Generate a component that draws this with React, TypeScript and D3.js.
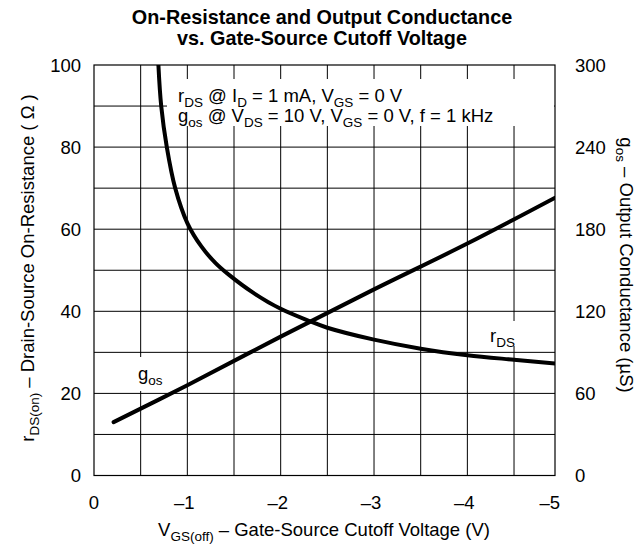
import React from "react";
import * as d3 from "d3";

// ---- data ----
const rdsV = [-0.69, -0.72, -0.78, -0.87, -1.0, -1.15, -1.3, -1.45, -1.7, -2.0, -2.3, -2.5, -3.0, -3.5, -4.0, -4.5, -4.94];
const rdsOhm = [100, 90, 80, 70, 61.5, 55.8, 51.8, 48.8, 44.6, 40.6, 37.7, 36.0, 33.1, 30.9, 29.3, 28.2, 27.3];
const gosV = [-0.21, -1.0, -2.0, -3.0, -4.0, -4.94];
const gosUS = [39, 66, 101.5, 136, 169.5, 203];
const xTicks = [0, -1, -2, -3, -4, -5];
const xTickLabels = ["0", "\u20131", "\u20132", "\u20133", "\u20134", "\u20135"];
const leftTicks = [0, 20, 40, 60, 80, 100];
const rightTicks = [0, 60, 120, 180, 240, 300];
const xGrid = [-0.5, -1, -1.5, -2, -2.5, -3, -3.5, -4, -4.5];
const yGrid = [10, 20, 30, 40, 50, 60, 70, 80, 90];

const W = 636;
const H = 544;
const L = 94, R = 555, T = 65, B = 475.5;
const FONT = "'Liberation Sans', Arial, Helvetica, sans-serif";
const FS = 18.5;
const SUB = 13.5;
const SH = 4.5;

type Part = [string, boolean];

function rich(parts: Part[]) {
  let prevSub = false;
  return parts.map(([s, isSub], i) => {
    let dy = 0;
    if (isSub && !prevSub) dy = SH;
    if (!isSub && prevSub) dy = -SH;
    prevSub = isSub;
    return (
      <tspan key={i} dy={dy} fontSize={isSub ? SUB : FS}>
        {s}
      </tspan>
    );
  });
}

export default function App() {
  const x = d3.scaleLinear().domain([0, -5]).range([L, 560.7]);
  const y = d3.scaleLinear().domain([0, 100]).range([B, T]);
  const y2 = d3.scaleLinear().domain([0, 300]).range([B, T]);

  const rdsPts: [number, number][] = rdsV.map((v, i) => [x(v), y(rdsOhm[i])]);
  const gosPts: [number, number][] = gosV.map((v, i) => [x(v), y2(gosUS[i])]);
  const line = d3.line().curve(d3.curveCatmullRom.alpha(0.5));

  return (
    <svg width={W} height={H} style={{ position: "absolute", left: 0, top: 0 }} fontFamily={FONT}>
      <rect x={0} y={0} width={W} height={H} fill="#fff" />
      <defs>
        <clipPath id="plot">
          <rect x={L} y={T} width={R - L} height={B - T} />
        </clipPath>
      </defs>

      {/* Title */}
      <text x={322} y={24} textAnchor="middle" fontWeight="bold" fontSize={19.8} fill="#000">
        On-Resistance and Output Conductance
      </text>
      <text x={322} y={45} textAnchor="middle" fontWeight="bold" fontSize={19.8} fill="#000">
        vs. Gate-Source Cutoff Voltage
      </text>

      {/* grid */}
      {xGrid.map((v) => (
        <line key={"xg" + v} x1={x(v)} x2={x(v)} y1={T} y2={B} stroke="#000" strokeWidth={1} />
      ))}
      {yGrid.map((v) => (
        <line key={"yg" + v} x1={L} x2={R} y1={y(v)} y2={y(v)} stroke="#000" strokeWidth={1} />
      ))}

      {/* label backgrounds */}
      <rect x={167} y={79} width={R - 167 - 1} height={47} fill="#fff" />
      <rect x={487} y={321} width={34} height={25} fill="#fff" />
      <rect x={134} y={357} width={34} height={34} fill="#fff" />

      <rect x={L} y={T} width={R - L} height={B - T} fill="none" stroke="#000" strokeWidth={1.2} />

      {/* curves */}
      <g clipPath="url(#plot)">
        <path d={line(rdsPts) || ""} fill="none" stroke="#000" strokeWidth={4} />
        <path d={line(gosPts) || ""} fill="none" stroke="#000" strokeWidth={4} strokeLinecap="round" />
      </g>

      {/* legend text */}
      <text x={178} y={102} fontSize={FS} fill="#000">
        {rich([["r", false], ["DS", true], [" @ I", false], ["D", true], [" = 1 mA, V", false], ["GS", true], [" = 0 V", false]])}
      </text>
      <text x={178} y={122} fontSize={FS} fill="#000">
        {rich([["g", false], ["os", true], [" @ V", false], ["DS", true], [" = 10 V, V", false], ["GS", true], [" = 0 V, f = 1 kHz", false]])}
      </text>

      {/* curve labels */}
      <text x={490} y={342} fontSize={FS} fill="#000">
        {rich([["r", false], ["DS", true]])}
      </text>
      <text x={138} y={380} fontSize={FS} fill="#000">
        {rich([["g", false], ["os", true]])}
      </text>

      {/* left ticks */}
      {leftTicks.map((v) => (
        <text key={"lt" + v} x={81} y={y(v) + 6.5} textAnchor="end" fontSize={FS} fill="#000">
          {v}
        </text>
      ))}
      {/* right ticks */}
      {rightTicks.map((v) => (
        <text key={"rt" + v} x={575} y={y2(v) + 6.5} textAnchor="start" fontSize={FS} fill="#000">
          {v}
        </text>
      ))}
      {/* x ticks */}
      {xTicks.map((v, i) => (
        <text key={"xt" + v} x={x(v) - (i === 5 ? 8 : 0) + (i === 0 ? 0 : -3)} y={509} textAnchor="middle" fontSize={FS} fill="#000">
          {xTickLabels[i]}
        </text>
      ))}

      {/* axis titles */}
      <text x={324} y={536} textAnchor="middle" fontSize={FS} fill="#000">
        {rich([["V", false], ["GS(off)", true], [" \u2013 Gate-Source Cutoff Voltage (V)", false]])}
      </text>
      <text transform="translate(34,268) rotate(-90)" textAnchor="middle" fontSize={FS} fill="#000">
        {rich([["r", false], ["DS(on)", true], [" \u2013 Drain-Source On-Resistance ( \u03A9 )", false]])}
      </text>
      <text transform="translate(620,265) rotate(90)" textAnchor="middle" fontSize={FS} fill="#000">
        {rich([["g", false], ["os", true], [" \u2013 Output Conductance (\u00B5S)", false]])}
      </text>
    </svg>
  );
}
